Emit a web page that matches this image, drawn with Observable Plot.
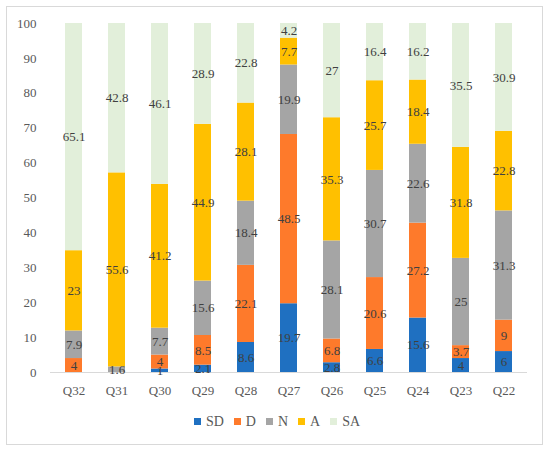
<!DOCTYPE html>
<html>
<head>
<meta charset="utf-8">
<script src="https://cdn.jsdelivr.net/npm/d3@7"></script>
<script src="https://cdn.jsdelivr.net/npm/@observablehq/plot@0.6"></script>
<style>
  html, body { margin: 0; padding: 0; background: #fff; }
  #wrap { position: relative; width: 550px; height: 452px; overflow: hidden;
          font-family: "Palatino Linotype", "Book Antiqua", Palatino, "Liberation Serif", serif; }
  #frame { position: absolute; left: 6px; top: 6px; width: 537px; height: 439px;
           box-sizing: border-box; border: 1px solid #d9d9d9; pointer-events: none; }
  div.lg-swatches-wrap { justify-content: center !important; min-height: 33px; padding-left: 14px;
           font-family: "Palatino Linotype", "Book Antiqua", Palatino, "Liberation Serif", serif !important; }
  div.lg-swatches-wrap span.lg-swatch { margin-right: 10px !important; color: #595959; font-size: 14px;
           font-family: "Palatino Linotype", "Book Antiqua", Palatino, "Liberation Serif", serif !important; }
  div.lg-swatches-wrap span.lg-swatch > svg { margin-right: 5px !important; }
</style>
</head>
<body>
<div id="wrap"><div id="frame"></div></div>
<script>
const questions = ["Q32","Q31","Q30","Q29","Q28","Q27","Q26","Q25","Q24","Q23","Q22"];
const categories = ["SD","D","N","A","SA"];
const SD = [0, 0, 1, 2.1, 8.6, 19.7, 2.8, 6.6, 15.6, 4, 6];
const D  = [4, 0, 4, 8.5, 22.1, 48.5, 6.8, 20.6, 27.2, 3.7, 9];
const N  = [7.9, 1.6, 7.7, 15.6, 18.4, 19.9, 28.1, 30.7, 22.6, 25, 31.3];
const A  = [23, 55.6, 41.2, 44.9, 28.1, 7.7, 35.3, 25.7, 18.4, 31.8, 22.8];
const SA = [65.1, 42.8, 46.1, 28.9, 22.8, 4.2, 27, 16.4, 16.2, 35.5, 30.9];
const yTicks = [0,10,20,30,40,50,60,70,80,90,100];
const colors = ["#1f70c1","#fe7a2b","#a5a5a5","#ffc000","#e2efda"];

const series = {SD, D, N, A, SA};
const data = [];
questions.forEach((q, i) => {
  categories.forEach(c => data.push({q, cat: c, v: series[c][i]}));
});

const font = '"Palatino Linotype", "Book Antiqua", Palatino, "Liberation Serif", serif';

const plot = Plot.plot({
  width: 550,
  height: 405,
  marginTop: 23,
  marginBottom: 33,
  marginLeft: 50,
  marginRight: 23,
  style: {fontFamily: font, fontSize: "13px", color: "#595959", background: "transparent", overflow: "visible"},
  x: {domain: questions, paddingInner: 0.6, paddingOuter: 0.3, label: null},
  y: {domain: [0, 100], label: null},
  color: {domain: categories, range: colors},
  marks: [
    Plot.barY(data, {x: "q", y: "v", fill: "cat", z: "cat"}),
    Plot.ruleY([0], {stroke: "#d9d9d9", strokeWidth: 1}),
    Plot.text(data, Plot.stackY({x: "q", y: "v", z: "cat", text: d => d.v > 0 ? String(d.v) : "", fill: "#404040", fontSize: 13})),
    Plot.axisY({ticks: yTicks, tickSize: 0, tickPadding: 14, label: null, fontSize: 13}),
    Plot.axisX({tickSize: 0, tickPadding: 13, label: null, fontSize: 13})
  ]
});

const wrap = document.getElementById("wrap");
wrap.appendChild(plot);
const legend = plot.legend("color", {
  swatchSize: 7,
  className: "lg",
  style: {fontFamily: font, fontSize: "14px", color: "#595959"}
});
wrap.appendChild(legend);
</script>
</body>
</html>
